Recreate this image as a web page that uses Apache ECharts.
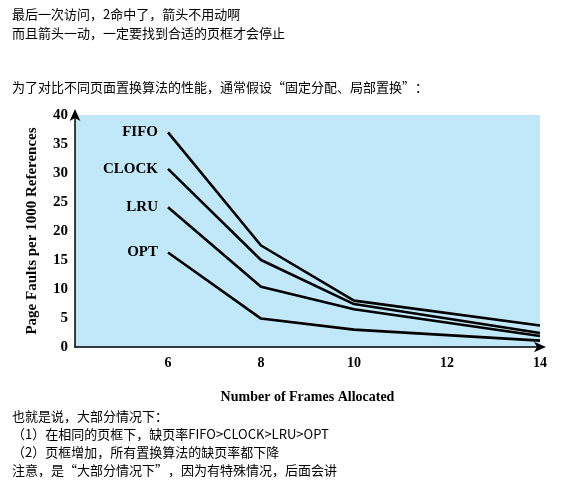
<!DOCTYPE html>
<html><head><meta charset="utf-8">
<script src="https://cdn.jsdelivr.net/npm/echarts@6/dist/echarts.min.js"></script>
<style>html,body{margin:0;padding:0;background:#fff}#c{width:567px;height:483px}</style>
</head><body><div id="c"></div>
<script>
const frames = [6, 8, 10, 14];
const fifo = [37, 17.5, 8.0, 3.7];
const clock = [30.7, 15.0, 7.4, 2.4];
const lru = [24.1, 10.4, 6.5, 1.9];
const opt = [16.3, 4.9, 3.0, 1.1];
const seriesNames = ['FIFO', 'CLOCK', 'LRU', 'OPT'];
const seriesValues = [fifo, clock, lru, opt];
const topText = ['最后一次访问，2命中了，箭头不用动啊', '而且箭头一动，一定要找到合适的页框才会停止'];
const midText = '为了对比不同页面置换算法的性能，通常假设“固定分配、局部置换”：';
const bottomText = ['也就是说，大部分情况下：', '（1）在相同的页框下，缺页率FIFO>CLOCK>LRU>OPT', '（2）页框增加，所有置换算法的缺页率都下降', '注意，是“大部分情况下”，因为有特殊情况，后面会讲'];

const cjk = '"Noto Sans CJK SC", "Microsoft YaHei", sans-serif';
const serif = '"Liberation Serif", "Times New Roman", serif';
const chart = echarts.init(document.getElementById('c'), null, {renderer: 'canvas'});

function textEl(t, x, y) {
  return {type: 'text', left: x, top: y, style: {text: t, font: '13px ' + cjk, fill: '#000'}};
}
const graphics = [];
topText.forEach((t, i) => graphics.push(textEl(t, 12, 8 + i * 19)));
graphics.push(textEl(midText, 12, 81));
bottomText.forEach((t, i) => graphics.push(textEl(t, 12, 410 + i * 18)));

chart.setOption({
  animation: false,
  grid: {left: 75, top: 115, right: 27, bottom: 136, show: true, backgroundColor: '#c0e8f8', borderWidth: 0},
  xAxis: {
    type: 'value', min: 4, max: 14, interval: 2,
    name: 'Number of Frames Allocated', nameLocation: 'middle', nameGap: 43,
    nameTextStyle: {fontFamily: serif, fontWeight: 'bold', fontSize: 14, color: '#000'},
    axisLine: {lineStyle: {color: '#000', width: 1.5}, symbol: ['none', 'arrow'], symbolSize: [8, 12], symbolOffset: [0, 6]},
    axisTick: {show: false}, splitLine: {show: false},
    axisLabel: {margin: 9, fontFamily: serif, fontWeight: 'bold', fontSize: 14, color: '#000',
      formatter: v => v === 4 ? '' : String(v)}
  },
  yAxis: {
    type: 'value', min: 0, max: 40, interval: 5,
    name: 'Page Faults per 1000 References', nameLocation: 'middle', nameGap: 35, nameRotate: 90,
    nameTextStyle: {fontFamily: serif, fontWeight: 'bold', fontSize: 15, color: '#000'},
    axisLine: {show: true, lineStyle: {color: '#000', width: 1.5}, symbol: ['none', 'arrow'], symbolSize: [8, 12], symbolOffset: [0, 6]},
    axisTick: {show: false}, splitLine: {show: false},
    axisLabel: {margin: 7, fontFamily: serif, fontWeight: 'bold', fontSize: 15, color: '#000'}
  },
  graphic: graphics,
  series: seriesNames.map((n, si) => ({
    type: 'line', name: n, showSymbol: true, symbol: 'circle', symbolSize: 2, silent: true,
    itemStyle: {color: 'rgba(0,0,0,0)', borderWidth: 0},
    lineStyle: {color: '#000', width: 2.6},
    labelLayout: {hideOverlap: false},
    data: frames.map((f, i) => i === 0 ? {
      value: [f, seriesValues[si][i]],
      label: {show: true, position: 'left', distance: 9, formatter: n,
        fontFamily: serif, fontWeight: 'bold', fontSize: 15, color: '#000'}
    } : [f, seriesValues[si][i]])
  }))
});
</script></body></html>
